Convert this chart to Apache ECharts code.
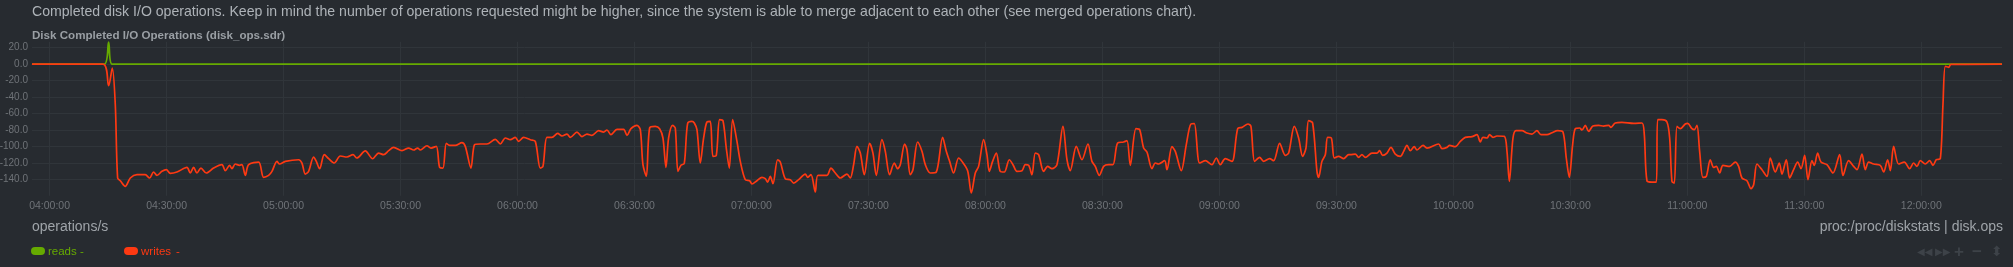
<!DOCTYPE html>
<html><head><meta charset="utf-8">
<script src="https://cdn.jsdelivr.net/npm/echarts@6/dist/echarts.min.js"></script>
<style>html,body{margin:0;padding:0;background:#272b30;overflow:hidden}#c{width:2013px;height:267px}</style>
</head><body><div id="c"></div>
<script>
// ---- data ----
const descText = 'Completed disk I/O operations. Keep in mind the number of operations requested might be higher, since the system is able to merge adjacent to each other (see merged operations chart).';
const chartTitle = 'Disk Completed I/O Operations (disk_ops.sdr)';
const unitsText = 'operations/s';
const sourceText = 'proc:/proc/diskstats | disk.ops';
const seriesNames = ['reads', 'writes'];
const xTickMinutes = [0, 30, 60, 90, 120, 150, 180, 210, 240, 270, 300, 330, 360, 390, 420, 450, 480];
const xTickLabels = ['04:00:00','04:30:00','05:00:00','05:30:00','06:00:00','06:30:00','07:00:00','07:30:00','08:00:00','08:30:00','09:00:00','09:30:00','10:00:00','10:30:00','11:00:00','11:30:00','12:00:00'];
const yTickValues = [20, 0, -20, -40, -60, -80, -100, -120, -140];
// minutes after 04:00:00
const readsMin = [-4.52, 14.03, 15.14, 15.99, 500.69];
const readsVal = [0, 0, 26.7, 0, 0];
const writesMin = [
-4.52,13.69,15.14,16.08,16.85,17.45,18.13,19.41,20.70,22.40,24.54,25.65,26.68,27.53,28.82,29.93,30.95,32.66,35.23,36.08,36.94,37.79,38.82,40.19,42.07,44.20,45.06,46.17,46.77,47.62,48.73,49.33,50.19,51.04,53.61,54.89,56.17,57.03,58.31,58.99,60.45,63.86,64.72,65.57,66.43,67.71,68.40,69.25,70.45,71.56,73.01,74.55,76.26,77.80,78.82,80.96,82.84,
84.38,85.66,86.95,88.23,90.37,92.08,93.36,94.38,95.07,96.78,97.80,99.17,100.03,100.88,101.74,102.59,104.04,105.75,106.61,108.06,109.00,110.45,112.16,114.30,115.58,116.87,118.15,119.43,120.28,121.57,123.28,124.56,125.84,126.53,127.55,128.83,130.29,131.40,132.68,133.54,135.25,136.53,137.81,139.09,140.80,142.08,142.94,143.96,145.50,147.21,148.07,149.09,150.63,151.49,152.17,153.03,153.88,155.33,156.44,157.30,158.07,158.75,159.78,160.46,161.15,161.92,162.77,163.63,164.74,
165.34,166.02,166.87,167.73,168.58,169.44,170.12,170.98,171.83,172.69,173.54,174.31,175.17,176.28,177.13,178.41,179.53,180.12,181.41,182.69,183.54,184.14,184.83,185.51,186.71,187.39,188.67,189.96,190.81,192.09,193.80,194.40,195.26,196.37,197.05,199.36,200.38,201.50,202.78,204.49,205.34,206.20,207.05,207.91,208.93,210.30,211.15,212.01,213.46,214.32,215.43,216.63,217.48,218.16,219.28,219.87,220.73,221.41,222.61,223.72,224.58,225.86,227.40,229.02,229.96,230.82,231.84,233.12,233.98,235.43,236.37,237.40,238.25,239.54,240.39,240.99,241.84,242.79,243.81,244.84,246.12,247.06,248.08,249.37,
250.22,251.08,251.93,252.79,253.64,254.92,255.95,257.06,258.34,259.88,260.91,261.76,263.30,264.75,266.29,267.32,268.17,269.20,270.31,271.59,272.70,273.90,275.44,276.30,277.15,278.60,279.54,280.57,281.42,282.71,283.56,284.42,285.96,286.55,287.84,288.69,290.23,291.51,292.71,293.56,294.93,296.38,298.09,299.20,300.23,301.51,303.22,304.68,305.79,307.33,308.09,309.04,310.32,311.34,312.88,313.91,315.45,316.90,317.76,319.21,320.32,321.35,322.20,322.88,323.91,325.02,325.45,326.30,327.16,327.76,328.70,329.47,330.58,331.86,333.14,
333.57,334.85,335.71,336.56,337.42,339.13,340.41,341.09,341.86,342.97,344.00,345.11,346.39,347.25,348.10,348.96,349.98,350.67,352.21,353.23,356.22,357.08,358.36,359.04,360.50,361.78,363.06,364.77,366.05,366.91,367.59,368.62,369.30,370.16,371.18,373.06,373.75,374.35,375.29,376.06,377.59,378.88,380.16,381.44,382.47,384.01,385.29,386.74,388.11,388.96,389.73,390.59,391.27,392.38,392.98,393.84,394.69,395.80,397.26,398.54,399.82,400.42,401.53,403.24,406.23,408.37,408.97,409.65,410.93,412.05,412.39,413.50,414.78,415.47,416.06,416.66,417.35,
418.20,419.48,420.08,421.19,421.79,422.47,423.16,424.01,424.87,425.89,426.75,427.43,428.29,429.14,430.85,432.31,433.16,434.01,435.30,436.32,437.01,437.86,439.14,440.43,441.28,442.56,443.59,444.27,445.38,446.24,447.26,448.29,449.15,450.09,450.94,451.97,452.56,453.42,454.27,455.81,457.35,459.06,459.92,461.37,462.65,463.51,464.79,465.64,466.50,467.78,469.49,470.35,471.37,472.06,472.91,474.19,475.65,477.01,478.04,478.89,479.75,481.03,482.14,483.00,483.85,484.88,485.56,486.16,487.02,487.61,500.69];
const writesVal = [
0,0,-26.3,-4.9,-49.4,-138.4,-141.7,-148.5,-138.4,-134.4,-134.4,-138.4,-131.1,-135.2,-130.3,-128.3,-132.7,-131.1,-125.5,-132.3,-125.5,-132.3,-126.3,-132.3,-126.3,-122.2,-129.5,-123.0,-127.1,-121.4,-123.0,-122.2,-135.2,-122.2,-119.0,-137.6,-135.2,-130.3,-118.2,-121.4,-118.2,-116.2,-120.2,-133.6,-130.3,-112.9,-118.2,-127.1,-110.1,-114.9,-120.2,-111.7,-112.9,-110.1,-114.1,-105.5,-115.0,
-108.1,-110.1,-105.2,-101.2,-105.2,-102.0,-104.4,-102.0,-104.4,-99.2,-102.0,-100.0,-125.5,-126.3,-96.3,-98.8,-98.8,-95.5,-100.0,-126.3,-97.9,-97.1,-97.1,-91.5,-97.1,-89.8,-91.9,-89.0,-93.9,-89.0,-91.9,-93.9,-126.3,-124.3,-89.0,-89.0,-84.2,-87.4,-85.0,-89.0,-82.6,-88.2,-85.0,-86.6,-80.9,-82.6,-80.1,-85.8,-79.3,-79.3,-86.6,-78.5,-74.5,-79.7,-122.2,-136.0,-77.7,-75.7,-78.5,-89.8,-125.5,-89.8,-74.5,-77.7,-130.3,-123.0,-120.6,-72.0,-69.6,
-71.6,-79.7,-120.2,-89.8,-70.4,-69.6,-112.1,-110.9,-67.6,-68.8,-102.0,-126.3,-67.6,-93.9,-118.2,-140.4,-141.7,-145.7,-141.7,-137.6,-139.2,-143.3,-136.4,-145.3,-116.2,-119.0,-139.2,-140.4,-144.5,-140.4,-133.6,-137.6,-134.4,-155.4,-135.2,-135.2,-126.3,-132.3,-138.4,-133.6,-138.4,-122.2,-100.0,-108.1,-134.4,-96.3,-108.1,-135.2,-91.9,-106.0,-134.4,-120.2,-127.1,-122.2,-97.1,-104.0,-134.4,-128.3,-94.7,-106.0,-122.2,-132.3,-131.1,-89.0,-106.0,-118.2,-132.3,-114.1,-118.2,-129.5,-156.6,-132.3,-124.3,-91.9,-110.1,-130.3,-118.2,-108.1,-130.3,-131.1,-116.2,-122.2,-130.3,-129.5,
-122.2,-123.0,-134.4,-108.1,-110.1,-130.3,-124.3,-127.1,-122.2,-75.7,-116.2,-129.5,-100.0,-116.2,-97.1,-118.2,-124.3,-135.2,-124.3,-122.2,-122.2,-95.9,-94.7,-93.1,-123.0,-78.5,-79.7,-102.0,-106.8,-127.1,-120.2,-121.4,-117.4,-128.3,-100.4,-106.0,-129.5,-97.9,-72.8,-72.4,-120.2,-117.4,-122.2,-114.1,-122.2,-114.9,-118.2,-78.5,-76.9,-72.8,-75.7,-118.2,-113.3,-118.2,-114.9,-117.4,-96.3,-110.9,-108.1,-75.7,-89.8,-112.1,-102.0,-68.8,-71.6,-130.3,-137.6,-118.2,-110.1,-89.0,-89.8,-114.1,-112.1,-114.9,-110.1,
-110.1,-109.3,-113.3,-110.1,-113.3,-108.1,-108.1,-105.2,-110.9,-108.1,-101.2,-109.3,-112.1,-106.0,-98.8,-105.2,-100.4,-104.4,-98.8,-102.0,-97.1,-102.8,-101.2,-98.8,-100.4,-93.9,-89.0,-88.2,-85.8,-94.7,-89.0,-89.8,-85.8,-89.0,-87.4,-87.8,-106.0,-142.5,-89.8,-80.9,-80.9,-83.8,-85.0,-80.9,-85.8,-85.8,-83.4,-80.9,-82.6,-114.1,-137.6,-97.9,-78.5,-77.7,-80.1,-74.5,-81.8,-75.3,-74.5,-75.3,-74.5,-76.9,-71.6,-70.8,-72.0,-71.6,-85.8,-141.7,-143.3,-143.3,-67.6,-67.6,-70.4,-89.8,-142.5,-144.5,-75.7,
-78.5,-72.8,-72.0,-78.5,-79.7,-74.5,-106.0,-137.6,-136.4,-116.2,-125.5,-124.3,-132.3,-123.0,-124.3,-119.0,-124.3,-138.4,-141.7,-151.4,-146.5,-121.4,-128.3,-136.4,-114.1,-131.1,-120.2,-133.6,-116.2,-138.4,-128.3,-119.0,-127.1,-110.9,-140.4,-117.4,-123.0,-108.1,-119.0,-122.2,-132.3,-110.1,-135.2,-117.4,-124.3,-128.3,-109.3,-128.3,-119.0,-121.4,-123.0,-131.1,-116.2,-129.5,-100.0,-121.4,-119.0,-127.1,-120.2,-124.3,-117.4,-121.4,-117.4,-123.0,-116.2,-114.9,-49.4,-2.8,-4.0,-0.4,0];
const startMin = -4.51, endMin = 500.7;

// ---- chart ----
const FONT = "'Liberation Sans', Arial, Helvetica, sans-serif";
const GREEN = '#66aa00', RED = '#fe3912', GRID = '#30353a';
const pairs = (xs, ys) => xs.map((x, i) => [x, ys[i]]);
const chart = echarts.init(document.getElementById('c'), null, {renderer: 'canvas'});
chart.setOption({
  backgroundColor: '#272b30',
  animation: false,
  grid: {left: 32, right: 11, top: 41.8, bottom: 71.2, containLabel: false, outerBoundsMode: 'none'},
  xAxis: {
    type: 'value', min: startMin, max: endMin,
    axisLine: {show: true, lineStyle: {color: GRID, width: 1}},
    axisTick: {show: false, customValues: xTickMinutes},
    splitLine: {show: true, lineStyle: {color: GRID, width: 1}},
    axisLabel: {
      customValues: xTickMinutes, margin: 5, color: '#6f7378', fontSize: 10.5, fontFamily: FONT,
      formatter: v => { const i = xTickMinutes.indexOf(Math.round(v)); return i >= 0 ? xTickLabels[i] : ''; }
    }
  },
  yAxis: {
    type: 'value', min: -160, max: 27,
    axisLine: {show: false},
    axisTick: {show: false, customValues: yTickValues},
    splitLine: {show: true, lineStyle: {color: GRID, width: 1}},
    axisLabel: {customValues: yTickValues, margin: 4, color: '#6f7378', fontSize: 10, fontFamily: FONT,
      padding: [4, 0, 0, 0],
      formatter: v => Number(v).toFixed(1)}
  },
  series: [
    {name: seriesNames[0], type: 'line', data: pairs(readsMin, readsVal), showSymbol: false, smooth: 0.3,
     lineStyle: {color: GREEN, width: 1.8}, itemStyle: {color: GREEN}},
    {name: seriesNames[1], type: 'line', data: pairs(writesMin, writesVal), showSymbol: false, smooth: 0.3,
     lineStyle: {color: RED, width: 1.7}, itemStyle: {color: RED}}
  ],
  graphic: [
    {type: 'text', style: {x: 32, y: 12.5, text: descText, fill: '#aeb3b8', fontSize: 14.1, fontFamily: FONT, verticalAlign: 'middle'}},
    {type: 'text', style: {x: 32, y: 36, text: chartTitle, fill: '#9a9fa4', fontSize: 11.6, fontWeight: 'bold', fontFamily: FONT, verticalAlign: 'middle'}},
    {type: 'text', style: {x: 32, y: 227, text: unitsText, fill: '#9fa4a9', fontSize: 14, fontFamily: FONT, verticalAlign: 'middle'}},
    {type: 'text', style: {x: 2003, y: 227, text: sourceText, fill: '#9fa4a9', fontSize: 14, fontFamily: FONT, align: 'right', verticalAlign: 'middle'}},
    {type: 'rect', shape: {x: 31, y: 247, width: 14, height: 8, r: 4}, style: {fill: GREEN}},
    {type: 'text', style: {x: 48, y: 251.5, text: seriesNames[0], fill: GREEN, fontSize: 11.5, fontFamily: FONT, verticalAlign: 'middle'}},
    {type: 'text', style: {x: 80, y: 251.5, text: '-', fill: GREEN, fontSize: 11.5, fontFamily: FONT, verticalAlign: 'middle'}},
    {type: 'rect', shape: {x: 124, y: 247, width: 14, height: 8, r: 4}, style: {fill: RED}},
    {type: 'text', style: {x: 141, y: 251.5, text: seriesNames[1], fill: RED, fontSize: 11.5, fontFamily: FONT, verticalAlign: 'middle'}},
    {type: 'text', style: {x: 176, y: 251.5, text: '-', fill: RED, fontSize: 11.5, fontFamily: FONT, verticalAlign: 'middle'}},
    {type: 'text', style: {x: 1917, y: 252, text: '\u25C0\u25C0', fill: '#3d4248', fontSize: 10, fontFamily: "'DejaVu Sans', sans-serif", verticalAlign: 'middle', letterSpacing: -3}},
    {type: 'text', style: {x: 1935, y: 252, text: '\u25B6\u25B6', fill: '#3d4248', fontSize: 10, fontFamily: "'DejaVu Sans', sans-serif", verticalAlign: 'middle', letterSpacing: -3}},
    {type: 'text', style: {x: 1954, y: 252, text: '+', fill: '#3d4248', fontSize: 17, fontWeight: 'bold', fontFamily: FONT, verticalAlign: 'middle'}},
    {type: 'text', style: {x: 1972, y: 252, text: '\u2212', fill: '#3d4248', fontSize: 17, fontWeight: 'bold', fontFamily: FONT, verticalAlign: 'middle'}},
    {type: 'text', style: {x: 1991, y: 252, text: '\u2B0D', fill: '#3d4248', fontSize: 14, fontFamily: "'DejaVu Sans', sans-serif", verticalAlign: 'middle'}}
  ]
});
</script>
</body></html>
